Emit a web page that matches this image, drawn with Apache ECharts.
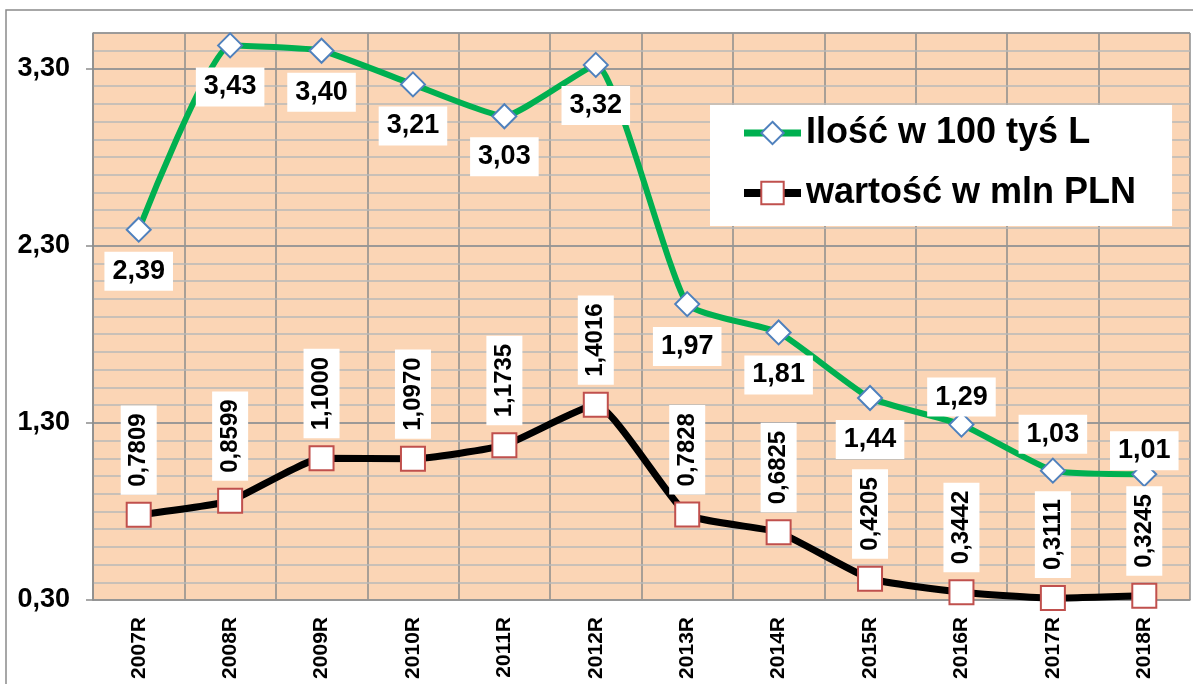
<!DOCTYPE html>
<html>
<head>
<meta charset="utf-8">
<script src="https://cdn.jsdelivr.net/npm/echarts@6/dist/echarts.min.js"></script>
<style>
  html, body { margin: 0; padding: 0; background: #fff; }
  #chart { width: 1193px; height: 684px; }
</style>
</head>
<body>
<div id="chart"></div>
<script>
var years = ['2007R', '2008R', '2009R', '2010R', '2011R', '2012R', '2013R', '2014R', '2015R', '2016R', '2017R', '2018R'];
var ilosc = [2.39, 3.43, 3.40, 3.21, 3.03, 3.32, 1.97, 1.81, 1.44, 1.29, 1.03, 1.01]; // w 100 tys L
var wartosc = [0.7809, 0.8599, 1.1000, 1.0970, 1.1735, 1.4016, 0.7828, 0.6825, 0.4205, 0.3442, 0.3111, 0.3245]; // mln PLN

// placement of green labels (above / below the point)
var iloscLabelPos = ['bottom', 'bottom', 'bottom', 'bottom', 'bottom', 'bottom', 'bottom', 'bottom', 'bottom', 'top', 'top', 'top'];
var iloscLabelDist = [9, 9, 9, 9, 8, 8, 10, 10, 9, -5, 4, -9];

var font = '"Liberation Sans", Arial, sans-serif';
var chart = echarts.init(document.getElementById('chart'));

function comma (v, d) {
  return v.toFixed(d).replace('.', ',');
}

var iloscData = [];
for (var i = 0; i < ilosc.length; i++) {
  iloscData.push({
    value: ilosc[i],
    label: { position: iloscLabelPos[i], distance: iloscLabelDist[i] }
  });
}

chart.setOption({
  backgroundColor: '#fff',
  animation: false,
  graphic: [{
    type: 'rect',
    shape: { x: 6, y: 10, width: 1300, height: 800 },
    style: { fill: 'none', stroke: '#8a8a8a', lineWidth: 1.5 },
    z: -1
  }],
  grid: {
    left: 93, right: 3, top: 33, bottom: 84,
    show: true, backgroundColor: '#FBD5B5', borderWidth: 0
  },
  legend: {
    left: 710, top: 105,
    orient: 'vertical',
    backgroundColor: '#fff',
    padding: [10, 36, 15, 30],
    itemWidth: 57, itemHeight: 28,
    itemGap: 24,
    data: [
      { name: 'Ilość w 100 tyś L', lineStyle: { color: '#00B050', width: 7 } },
      { name: 'wartość w mln PLN', lineStyle: { color: '#000', width: 8 } }
    ],
    textStyle: { fontFamily: font, fontWeight: 'bold', fontSize: 36, lineHeight: 36, color: '#000' }
  },
  xAxis: {
    type: 'category',
    data: years,
    boundaryGap: true,
    axisLine: { lineStyle: { color: '#8c8c8c', width: 1.5 } },
    axisTick: { length: 9, lineStyle: { color: '#8c8c8c', width: 1.5 } },
    splitLine: { show: true, lineStyle: { color: '#8c8c8c', width: 1.5 } },
    axisLabel: { rotate: 90, margin: 17, fontFamily: font, fontWeight: 'bold', fontSize: 21, color: '#000' }
  },
  yAxis: [{
    type: 'value',
    min: 0.3, max: 3.5, interval: 1,
    z: 3,
    axisLine: { show: true, lineStyle: { color: '#8c8c8c', width: 1.5 } },
    axisTick: { show: true, length: 7, lineStyle: { color: '#8c8c8c', width: 1.5 } },
    splitLine: { show: true, lineStyle: { color: '#8c8c8c', width: 1.5 } },
    axisLabel: {
      margin: 23, fontFamily: font, fontWeight: 'bold', fontSize: 27, color: '#000',
      showMaxLabel: false,
      formatter: function (v) { return comma(v, 2); }
    }
  }, {
    type: 'value',
    min: 0.3, max: 3.5, interval: 0.1,
    z: 1,
    axisLine: { show: false },
    axisTick: { show: false },
    axisLabel: { show: false },
    splitLine: { show: true, lineStyle: { color: '#b9b9b9', width: 1.5 } }
  }],
  series: [{
    name: 'Ilość w 100 tyś L',
    type: 'line',
    data: iloscData,
    smooth: 0.15,
    symbol: 'diamond',
    symbolSize: 24,
    lineStyle: { color: '#00B050', width: 6 },
    itemStyle: { color: '#fff', borderColor: '#4F81BD', borderWidth: 2 },
    label: {
      show: true,
      fontFamily: font, fontWeight: 'bold', fontSize: 27, lineHeight: 27, color: '#000',
      backgroundColor: '#fff', padding: [6, 8],
      formatter: function (p) { return comma(p.value, 2); }
    },
    z: 3
  }, {
    name: 'wartość w mln PLN',
    type: 'line',
    data: wartosc,
    smooth: 0.15,
    symbol: 'rect',
    symbolSize: 24,
    lineStyle: { color: '#000', width: 7 },
    itemStyle: { color: '#fff', borderColor: '#C0504D', borderWidth: 2 },
    label: {
      show: true,
      position: 'top',
      distance: 7,
      rotate: 90,
      align: 'left',
      verticalAlign: 'middle',
      fontFamily: font, fontWeight: 'bold', fontSize: 24, lineHeight: 24, color: '#000',
      backgroundColor: '#fff', padding: [6, 8],
      formatter: function (p) { return comma(p.value, 4); }
    },
    z: 3
  }]
});
</script>
</body>
</html>
